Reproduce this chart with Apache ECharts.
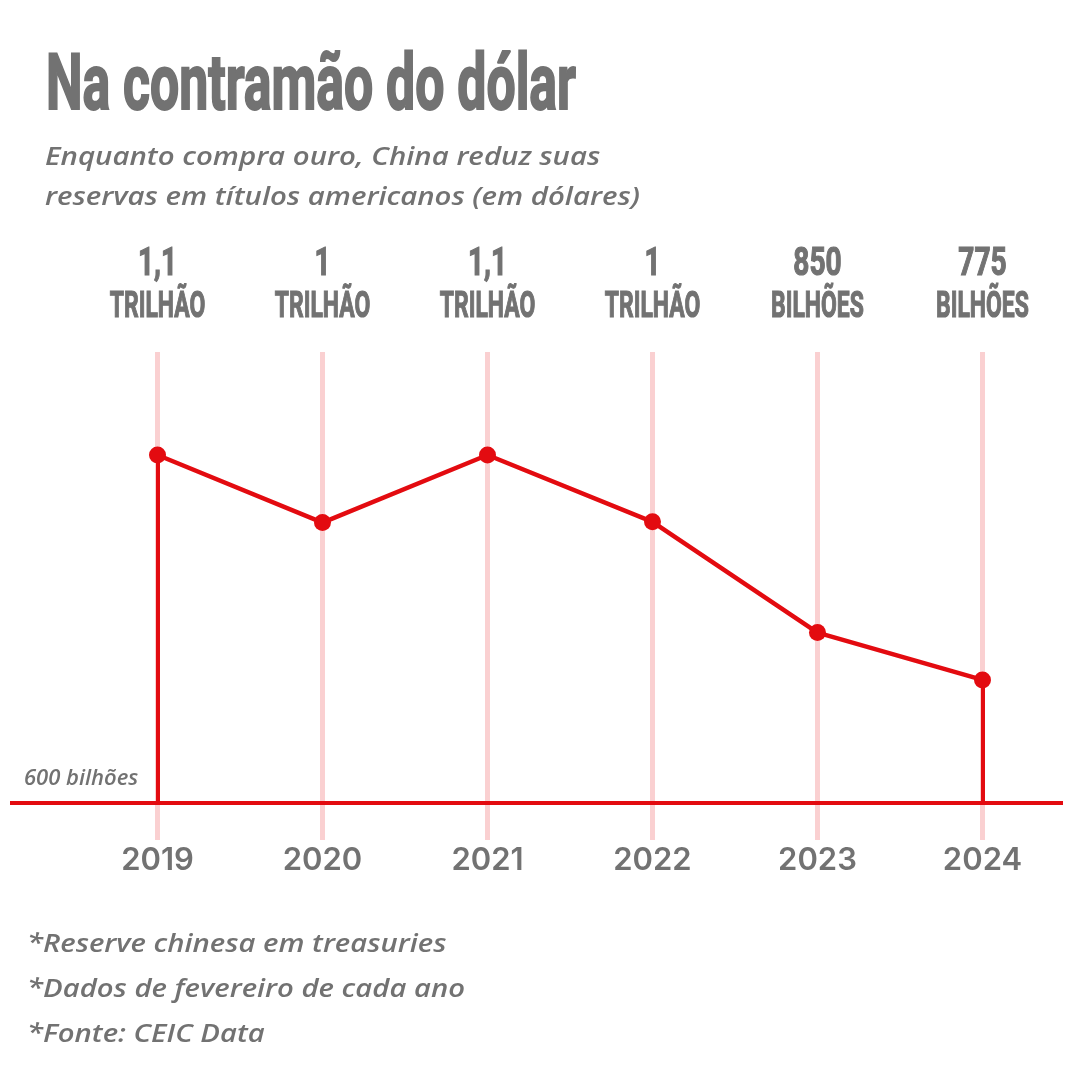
<!DOCTYPE html>
<html><head><meta charset="utf-8">
<script src="https://cdn.jsdelivr.net/npm/echarts@6/dist/echarts.min.js"></script>
<style>html,body{margin:0;padding:0;background:#fff}#c{width:1080px;height:1080px}</style>
</head><body><div id="c"></div>
<script>
const years = [2019, 2020, 2021, 2022, 2023, 2024];
const reserves = [1099, 1002, 1099, 1003, 844, 776];
const topValueLabels = ['1,1', '1', '1,1', '1', '850', '775'];
const topUnitLabels = ['TRILHÃO', 'TRILHÃO', 'TRILHÃO', 'TRILHÃO', 'BILHÕES', 'BILHÕES'];
const baseValue = 600;
const baseLabel = '600 bilhões';
const titleText = 'Na contramão do dólar';
const subtitleLines = ['Enquanto compra ouro, China reduz suas', 'reservas em títulos americanos (em dólares)'];
const notes = ['*Reserve chinesa em treasuries', '*Dados de fevereiro de cada ano', '*Fonte: CEIC Data'];

const RED = '#e30b10', GREY = '#727272', PINK = '#fad0d1';
const X_MIN = 2018.106, X_MAX = 2024.488, Y_MIN = 546, Y_MAX = 1247;

const chart = echarts.init(document.getElementById('c'), null, {renderer: 'canvas'});
const condensed = 'Roboto, "Liberation Sans", sans-serif';
const bodyFont = '"Open Sans", "Noto Sans", sans-serif';

const graphics = [
  {type: 'text', x: 46, y: 90, scaleX: 0.672,
   style: {text: titleText, font: 'bold 77px ' + condensed, fill: GREY, stroke: GREY, lineWidth: 2, verticalAlign: 'middle'}}
];
subtitleLines.forEach((t, i) => graphics.push({type: 'text', x: 45, y: 158 + i * 40, scaleX: 1.175,
  style: {text: t, font: 'italic 600 25px ' + bodyFont, fill: GREY, verticalAlign: 'middle'}}));
notes.forEach((t, i) => graphics.push({type: 'text', x: 27, y: 945 + i * 45, scaleX: 1.17,
  style: {text: t, font: 'italic 600 25px ' + bodyFont, fill: GREY, verticalAlign: 'middle'}}));

chart.setOption({
  animation: false,
  backgroundColor: '#fff',
  graphic: graphics,
  grid: {left: 10, right: 17, top: 352, bottom: 240},
  xAxis: {
    type: 'value', min: X_MIN, max: X_MAX,
    axisLine: {show: false},
    axisTick: {show: false, customValues: years},
    splitLine: {show: true, lineStyle: {color: PINK, width: 5}},
    axisLabel: {customValues: years, margin: 5, color: GREY, fontSize: 31, fontWeight: 600,
      fontFamily: 'Inter, Roboto, sans-serif', formatter: v => String(v)}
  },
  yAxis: {type: 'value', min: Y_MIN, max: Y_MAX, show: false, splitLine: {show: false}},
  series: [
    {
      type: 'custom', z: 1, silent: true,
      data: years.map((y, i) => [y, i]),
      renderItem: (params, api) => {
        const i = api.value(1);
        const p = api.coord([api.value(0), Y_MAX]);
        return {type: 'group', children: [
          {type: 'text', x: p[0], y: p[1] - 87, scaleX: 0.72,
           style: {text: topValueLabels[i], font: 'bold 39px ' + condensed, fill: GREY, stroke: GREY, lineWidth: 1.2, align: 'center', verticalAlign: 'middle'}},
          {type: 'text', x: p[0], y: p[1] - 44, scaleX: 0.62,
           style: {text: topUnitLabels[i], font: 'bold 37px ' + condensed, fill: GREY, stroke: GREY, lineWidth: 1.2, align: 'center', verticalAlign: 'middle'}}
        ]};
      }
    },
    {
      type: 'line', z: 5,
      data: years.map((y, i) => [y, reserves[i]]),
      symbol: 'circle', symbolSize: 17,
      itemStyle: {color: RED},
      lineStyle: {color: RED, width: 4.5},
      markLine: {
        silent: true, symbol: ['none', 'none'],
        lineStyle: {color: RED, width: 4, type: 'solid'},
        label: {show: false},
        data: [
          {yAxis: baseValue, label: {show: true, position: 'insideStartTop', distance: [14, 13],
            formatter: baseLabel, color: GREY, fontSize: 22, fontStyle: 'italic', fontWeight: 600,
            fontFamily: bodyFont}},
          [{coord: [years[0], reserves[0]]}, {coord: [years[0], baseValue]}],
          [{coord: [years[5], reserves[5]]}, {coord: [years[5], baseValue]}]
        ]
      }
    }
  ]
});
</script></body></html>
